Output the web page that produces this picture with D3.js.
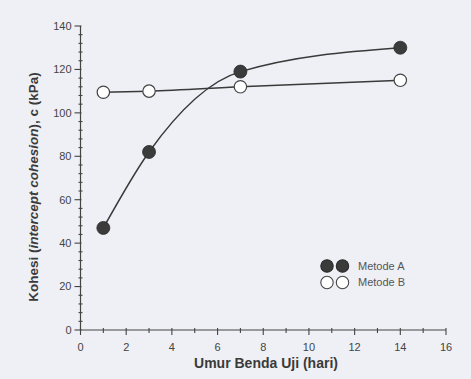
<!DOCTYPE html>
<html>
<head>
<meta charset="utf-8">
<script src="https://cdn.jsdelivr.net/npm/d3@7"></script>
<style>
  body { margin: 0; background: #eff0f5; }
  svg { display: block; font-family: "Liberation Sans", Arial, sans-serif; }
</style>
</head>
<body>
<div id="chart"></div>
<script>
// data
const days = [1, 3, 7, 14];
const metodeA = [47, 82, 119, 130];
const metodeB = [109.5, 110, 112, 115];
const xTicks = [0, 2, 4, 6, 8, 10, 12, 14, 16];
const yTicks = [0, 20, 40, 60, 80, 100, 120, 140];

const width = 471;
const height = 379;

const svg = d3.select("#chart").append("svg").attr("width", width).attr("height", height);

svg.append("rect").attr("width", width).attr("height", height).attr("fill", "#eff0f5");

const x = d3.scaleLinear().domain([0, 16]).range([80.5, 446]);
const y = d3.scaleLinear().domain([0, 140]).range([330, 26]);

const axisColor = "#444";

// x axis
const xAxis = svg.append("g").attr("transform", `translate(0,${y(0)})`);
xAxis.append("line").attr("x1", x(0)).attr("x2", x(16)).attr("stroke", axisColor).attr("stroke-width", 1.2);
xAxis
  .selectAll(".minor")
  .data(d3.range(0, 17, 1))
  .enter()
  .append("line")
  .attr("x1", (d) => x(d))
  .attr("x2", (d) => x(d))
  .attr("y1", -2)
  .attr("y2", (d) => (d % 2 === 0 ? 5 : 3))
  .attr("stroke", axisColor)
  .attr("stroke-width", 1.1);
xAxis
  .selectAll(".lbl")
  .data(xTicks)
  .enter()
  .append("text")
  .attr("x", (d) => x(d))
  .attr("y", 21)
  .attr("text-anchor", "middle")
  .attr("font-size", "11px")
  .attr("fill", "#444")
  .text((d) => d);

// y axis
const yAxis = svg.append("g").attr("transform", `translate(${x(0)},0)`);
yAxis.append("line").attr("y1", y(0)).attr("y2", y(140)).attr("stroke", axisColor).attr("stroke-width", 1.2);
yAxis
  .selectAll(".minor")
  .data(d3.range(0, 141, 4))
  .enter()
  .append("line")
  .attr("y1", (d) => y(d))
  .attr("y2", (d) => y(d))
  .attr("x1", (d) => (d % 20 === 0 ? -6 : -2))
  .attr("x2", (d) => (d % 20 === 0 ? 1 : 2))
  .attr("stroke", axisColor)
  .attr("stroke-width", 1.1);
yAxis
  .selectAll(".lbl")
  .data(yTicks)
  .enter()
  .append("text")
  .attr("x", -9)
  .attr("y", (d) => y(d))
  .attr("dy", "0.35em")
  .attr("text-anchor", "end")
  .attr("font-size", "11px")
  .attr("fill", "#444")
  .text((d) => d);

// axis titles
svg
  .append("text")
  .attr("x", 266)
  .attr("y", 368)
  .attr("text-anchor", "middle")
  .attr("font-size", "14px")
  .attr("font-weight", "bold")
  .attr("fill", "#3a3a3a")
  .text("Umur Benda Uji (hari)");

const yTitle = svg
  .append("text")
  .attr("transform", "translate(38,187) rotate(-90)")
  .attr("text-anchor", "middle")
  .attr("font-size", "13.5px")
  .attr("font-weight", "bold")
  .attr("fill", "#3a3a3a");
yTitle.append("tspan").text("Kohesi (");
yTitle.append("tspan").attr("font-style", "italic").text("intercept cohesion");
yTitle.append("tspan").text("), c (kPa)");

// lines
const line = d3
  .line()
  .x((d) => x(d[0]))
  .y((d) => y(d[1]))
  .curve(d3.curveMonotoneX);

const seriesA = days.map((d, i) => [d, metodeA[i]]);
const seriesB = days.map((d, i) => [d, metodeB[i]]);

svg.append("path").datum(seriesB).attr("d", line).attr("fill", "none").attr("stroke", "#3a3a3a").attr("stroke-width", 1.5);
svg.append("path").datum(seriesA).attr("d", line).attr("fill", "none").attr("stroke", "#3a3a3a").attr("stroke-width", 1.5);

// markers
svg
  .append("g")
  .selectAll("circle")
  .data(seriesB)
  .enter()
  .append("circle")
  .attr("cx", (d) => x(d[0]))
  .attr("cy", (d) => y(d[1]))
  .attr("r", 6.2)
  .attr("fill", "#ffffff")
  .attr("stroke", "#444")
  .attr("stroke-width", 1.2);

svg
  .append("g")
  .selectAll("circle")
  .data(seriesA)
  .enter()
  .append("circle")
  .attr("cx", (d) => x(d[0]))
  .attr("cy", (d) => y(d[1]))
  .attr("r", 6.5)
  .attr("fill", "#3b3b3b")
  .attr("stroke", "#2a2a2a")
  .attr("stroke-width", 0.8);

// legend
const legend = svg.append("g").attr("transform", "translate(327,266)");
const legendItems = [
  { name: "Metode A", fill: "#3b3b3b", stroke: "#2a2a2a" },
  { name: "Metode B", fill: "#ffffff", stroke: "#444" }
];
legendItems.forEach((item, i) => {
  const g = legend.append("g").attr("transform", `translate(0,${i * 16.5})`);
  [0, 15.5].forEach((dx) => {
    g.append("circle").attr("cx", dx).attr("cy", 0).attr("r", 6.2).attr("fill", item.fill).attr("stroke", item.stroke).attr("stroke-width", 1.1);
  });
  g.append("text").attr("x", 31).attr("y", 0).attr("dy", "0.35em").attr("font-size", "11px").attr("fill", "#555").text(item.name);
});
</script>
</body>
</html>
